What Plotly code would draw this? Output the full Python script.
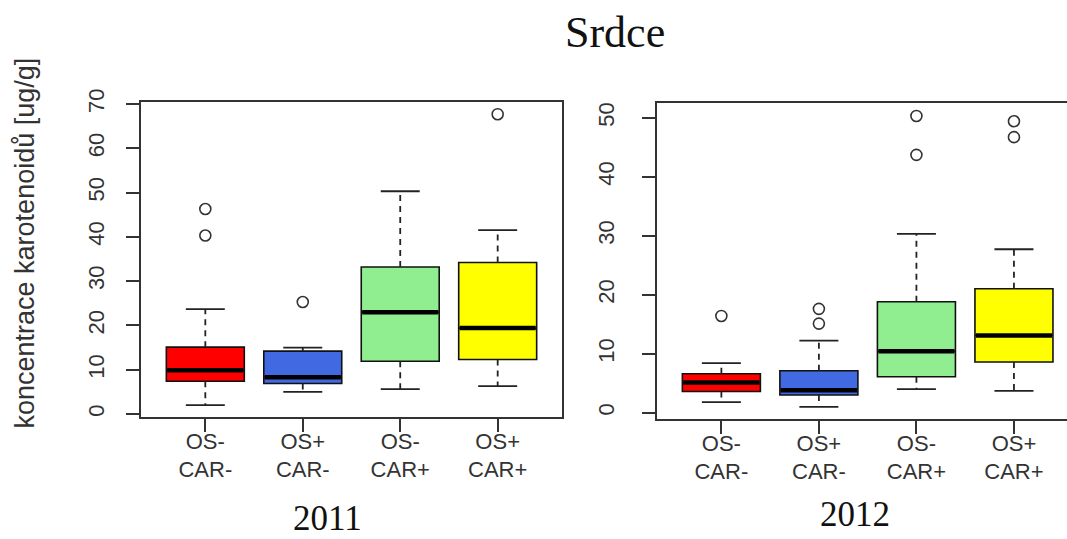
import plotly.graph_objects as go

W, H = 1067, 539

groups = ["OS-<br>CAR-", "OS+<br>CAR-", "OS-<br>CAR+", "OS+<br>CAR+"]
positions = [1, 2, 3, 4]
colors = ["#FF0000", "#4169E1", "#90EE90", "#FFFF00"]

# 2011 statistics
q1_2011 = [7.4, 6.9, 11.9, 12.3]
med_2011 = [9.9, 8.3, 23.0, 19.4]
q3_2011 = [15.1, 14.2, 33.2, 34.2]
lo_2011 = [2.0, 5.0, 5.6, 6.3]
hi_2011 = [23.7, 15.0, 50.3, 41.5]
out_x_2011 = [1, 1, 2, 4]
out_y_2011 = [46.3, 40.3, 25.3, 67.7]

# 2012 statistics
q1_2012 = [3.6, 3.0, 6.1, 8.6]
med_2012 = [5.1, 3.8, 10.4, 13.1]
q3_2012 = [6.6, 7.1, 18.8, 21.0]
lo_2012 = [1.8, 1.0, 4.0, 3.7]
hi_2012 = [8.4, 12.2, 30.3, 27.7]
out_x_2012 = [1, 2, 2, 3, 3, 4, 4]
out_y_2012 = [16.4, 17.6, 15.1, 50.3, 43.7, 49.4, 46.7]

yticks_2011 = [0, 10, 20, 30, 40, 50, 60, 70]
yticks_2012 = [0, 10, 20, 30, 40, 50]

fig = go.Figure()

BOXW = 0.8
CAPW = 0.2


def add_panel(xa, ya, q1, med, q3, lo, hi, ox, oy):
    for p, c, a, m, b, l, h in zip(positions, colors, q1, med, q3, lo, hi):
        fig.add_trace(go.Box(
            x=[p], q1=[a], median=[m], q3=[b], lowerfence=[a], upperfence=[b],
            width=BOXW, fillcolor=c, line=dict(color="#111111", width=1.6),
            whiskerwidth=0, boxpoints=False, showlegend=False,
            xaxis=xa, yaxis=ya, hoverinfo="skip"))
        # thick median
        fig.add_trace(go.Scatter(
            x=[p - BOXW / 2 + 0.01, p + BOXW / 2 - 0.01], y=[m, m], mode="lines",
            line=dict(color="black", width=4.5), showlegend=False,
            xaxis=xa, yaxis=ya, hoverinfo="skip"))
        # dashed whiskers
        fig.add_trace(go.Scatter(
            x=[p, p, None, p, p], y=[b, h, None, a, l], mode="lines",
            line=dict(color="#222222", width=1.8, dash="6px,5px"), showlegend=False,
            xaxis=xa, yaxis=ya, hoverinfo="skip"))
        # caps
        fig.add_trace(go.Scatter(
            x=[p - CAPW, p + CAPW, None, p - CAPW, p + CAPW], y=[h, h, None, l, l],
            mode="lines", line=dict(color="#222222", width=1.8), showlegend=False,
            xaxis=xa, yaxis=ya, hoverinfo="skip"))
    fig.add_trace(go.Scatter(
        x=ox, y=oy, mode="markers",
        marker=dict(symbol="circle-open", size=11, color="#333333", line=dict(width=1.6)),
        showlegend=False, xaxis=xa, yaxis=ya, hoverinfo="skip"))


add_panel("x", "y", q1_2011, med_2011, q3_2011, lo_2011, hi_2011, out_x_2011, out_y_2011)
add_panel("x2", "y2", q1_2012, med_2012, q3_2012, lo_2012, hi_2012, out_x_2012, out_y_2012)

tickfont = dict(family="Arial, Liberation Sans, sans-serif", size=22, color="#333333")
axcommon = dict(showgrid=False, zeroline=False, showline=True, linecolor="#333333",
                linewidth=2, ticks="outside", ticklen=13, tickwidth=1.5,
                tickcolor="#333333", tickfont=tickfont)

fig.update_layout(
    width=W, height=H,
    margin=dict(l=0, r=0, t=0, b=0, autoexpand=False),
    paper_bgcolor="white", plot_bgcolor="white",
    boxmode="overlay",
    xaxis=dict(domain=[141 / W, 562 / W], range=[0.34, 4.66], tickvals=positions,
               ticktext=groups, mirror=True, anchor="y", ticklabelstandoff=-10,
               **axcommon),
    yaxis=dict(domain=[1 - 417.3 / H, 1 - 102 / H], range=[-0.74, 70.45],
               tickvals=yticks_2011, tickangle=-90, mirror=True, anchor="x",
               ticklabelstandoff=13, **axcommon),
    xaxis2=dict(domain=[657 / W, 1.0], range=[0.34, 4.544], tickvals=positions,
                ticktext=groups, mirror=True, anchor="y2", ticklabelstandoff=-10,
                **axcommon),
    yaxis2=dict(domain=[1 - 419.3 / H, 1 - 103.3 / H], range=[-1.12, 52.44],
                tickvals=yticks_2012, tickangle=-90, mirror=False, anchor="x2",
                ticklabelstandoff=19, **axcommon),
)

serif = "Times New Roman, Liberation Serif, serif"
fig.add_annotation(text="Srdce", x=615 / W, y=1 - 32 / H, xref="paper", yref="paper",
                   xanchor="center", yanchor="middle",
                   showarrow=False, font=dict(family=serif, size=44, color="#111111"))
fig.add_annotation(text="2011", x=327 / W, y=0.5 / H, xref="paper", yref="paper",
                   xanchor="center", yanchor="bottom", borderpad=0,
                   showarrow=False, font=dict(family=serif, size=35, color="#111111"))
fig.add_annotation(text="2012", x=855 / W, y=4 / H, xref="paper", yref="paper",
                   xanchor="center", yanchor="bottom", borderpad=0,
                   showarrow=False, font=dict(family=serif, size=35, color="#111111"))
fig.add_annotation(text="koncentrace karotenoidů [ug/g]", x=24 / W, y=1 - 56 / H,
                   xref="paper", yref="paper", showarrow=False, textangle=-90,
                   xanchor="center", yanchor="top",
                   font=dict(family="Arial, Liberation Sans, sans-serif", size=27,
                             color="#333333"))

fig.write_html("out.html")
